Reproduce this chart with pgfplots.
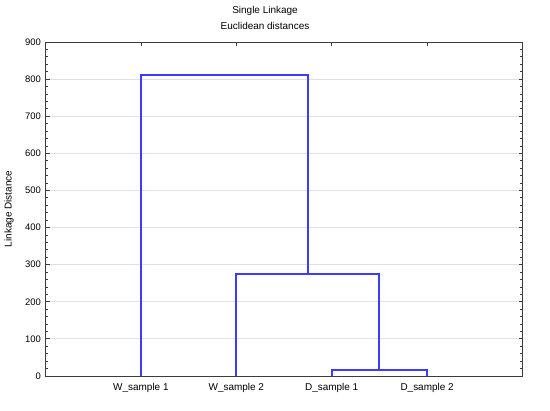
\documentclass[border=0pt]{standalone}
\usepackage{pgfplots}
\pgfplotsset{compat=1.18}
\usepackage{fontspec}
\setmainfont{Liberation Sans}
\definecolor{dend}{RGB}{60,60,255}
\definecolor{gridc}{RGB}{225,225,225}
\definecolor{frame}{RGB}{60,60,60}
\begin{document}
\fontsize{10}{12}\selectfont
\begin{tikzpicture}[x=1bp,y=1bp]
\path[use as bounding box] (0,0) rectangle (550,410);
\node[font=\fontsize{10}{12}\selectfont] at (265,399) {Single Linkage};
\node[font=\fontsize{10}{12}\selectfont] at (265,384) {Euclidean distances};
\node[font=\fontsize{10}{12}\selectfont, rotate=90] at (9,201) {Linkage Distance};
\begin{axis}[
  at={(45.5bp,34bp)}, anchor=south west,
  scale only axis, width=477bp, height=334bp,
  xmin=0, xmax=5, ymin=0, ymax=900,
  xtick={1,2,3,4},
  xticklabels={W\_sample 1, W\_sample 2, D\_sample 1, D\_sample 2},
  ytick={0,100,...,900},
  minor y tick num=4,
  tick align=inside,
  major tick length=4bp, minor tick length=2.5bp,
  ymajorgrids, grid style={gridc, line width=0.8pt},
  axis line style={frame, line width=1pt},
  tick style={frame, line width=0.8pt},
  every tick label/.append style={font=\fontsize{9.5}{11}\selectfont},
  xticklabel style={font=\fontsize{10}{12}\selectfont, yshift=-4bp},
  /pgf/number format/assume math mode=true,
  yticklabel style={xshift=-1bp},
]
\addplot[dend, line width=1.9bp] coordinates {(3,0) (3,15) (4,15) (4,0)};
\addplot[dend, line width=1.9bp] coordinates {(2,0) (2,276) (3.5,276) (3.5,15)};
\addplot[dend, line width=1.9bp] coordinates {(1,0) (1,812) (2.75,812) (2.75,276)};
\end{axis}
\end{tikzpicture}
\end{document}
